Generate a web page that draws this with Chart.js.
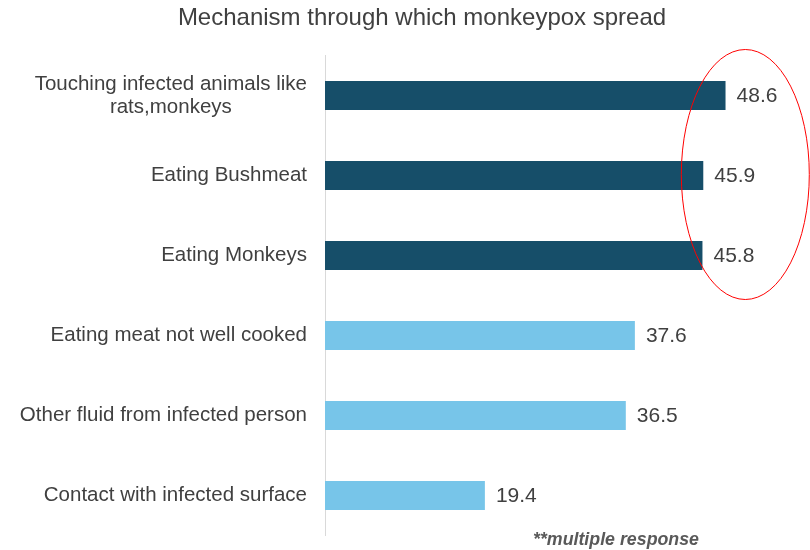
<!DOCTYPE html>
<html>
<head>
<meta charset="utf-8">
<script src="https://cdn.jsdelivr.net/npm/chart.js@4.4.1/dist/chart.umd.min.js"></script>
<style>
  body { margin: 0; background: #fff; }
  #wrap { width: 810px; height: 550px; }
</style>
</head>
<body>
<div id="wrap"><canvas id="spreadChart" width="810" height="550"></canvas></div>
<script>
const categories = [
  ["Touching infected animals like", "rats,monkeys"],
  "Eating Bushmeat",
  "Eating Monkeys",
  "Eating meat not well cooked",
  "Other fluid from infected person",
  "Contact with infected surface"
];
const percentages = [48.6, 45.9, 45.8, 37.6, 36.5, 19.4];
const barColors = ["#164e69", "#164e69", "#164e69", "#77c5e9", "#77c5e9", "#77c5e9"];
const chartTitle = "Mechanism through which monkeypox spread";
const footNote = "**multiple response";

const fontFamily = "'Liberation Sans', Arial, sans-serif";
const textColor = "#404040";

// category labels on the left, multi-line ones centred within their block
const categoryLabels = {
  id: "categoryLabels",
  afterDraw(chart) {
    const ctx = chart.ctx;
    const y = chart.scales.y;
    const right = chart.chartArea.left - 18;
    ctx.save();
    ctx.font = "20.5px " + fontFamily;
    ctx.fillStyle = textColor;
    ctx.textBaseline = "middle";
    categories.forEach((label, i) => {
      const yc = y.getPixelForTick(i);
      const lines = Array.isArray(label) ? label : [label];
      const lh = 23;
      const widest = Math.max(...lines.map(l => ctx.measureText(l).width));
      lines.forEach((line, j) => {
        const ly = yc + (j - (lines.length - 1) / 2) * lh;
        if (lines.length > 1) {
          ctx.textAlign = "center";
          ctx.fillText(line, right - widest / 2, ly);
        } else {
          ctx.textAlign = "right";
          ctx.fillText(line, right, ly);
        }
      });
    });
    ctx.restore();
  }
};

// value labels at the bar ends
const valueLabels = {
  id: "valueLabels",
  afterDatasetsDraw(chart) {
    const ctx = chart.ctx;
    const meta = chart.getDatasetMeta(0);
    ctx.save();
    ctx.font = "21px " + fontFamily;
    ctx.fillStyle = textColor;
    ctx.textAlign = "left";
    ctx.textBaseline = "middle";
    meta.data.forEach((bar, i) => {
      ctx.fillText(percentages[i].toFixed(1), bar.x + 11, bar.y + 1);
    });
    ctx.restore();
  }
};

// red ellipse round the top three bars, plus the footnote
const extras = {
  id: "extras",
  afterDraw(chart) {
    const ctx = chart.ctx;
    const x = chart.scales.x;
    const y = chart.scales.y;
    const cx = x.getPixelForValue(51);
    const cy = (y.getPixelForTick(0) + y.getPixelForTick(2)) / 2 - 1;
    ctx.save();
    ctx.strokeStyle = "#ff0000";
    ctx.lineWidth = 1;
    ctx.beginPath();
    ctx.ellipse(cx, cy, 64, 125, 0, 0, Math.PI * 2);
    ctx.stroke();

    ctx.font = "italic bold 17.8px " + fontFamily;
    ctx.fillStyle = "#595959";
    ctx.textAlign = "left";
    ctx.textBaseline = "middle";
    ctx.fillText(footNote, 533, 540);
    ctx.restore();
  }
};

new Chart(document.getElementById("spreadChart"), {
  type: "bar",
  data: {
    labels: categories,
    datasets: [{
      data: percentages,
      backgroundColor: barColors,
      borderWidth: 0,
      barPercentage: 0.3625,
      categoryPercentage: 1
    }]
  },
  options: {
    indexAxis: "y",
    responsive: false,
    animation: false,
    layout: { padding: { left: 41, right: 7, top: 4, bottom: 14.5 } },
    plugins: {
      legend: { display: false },
      tooltip: { enabled: false },
      title: {
        display: true,
        text: chartTitle,
        color: textColor,
        font: { family: fontFamily, size: 24, weight: "normal", lineHeight: 1.2 },
        padding: { top: 0, bottom: 22.7 }
      }
    },
    scales: {
      x: { display: false, min: 0, max: 58 },
      y: {
        ticks: { display: false },
        grid: { display: false },
        border: { display: true, color: "#d9d9d9", width: 1 },
        afterFit(scale) { scale.width = 284; }
      }
    }
  },
  plugins: [categoryLabels, valueLabels, extras]
});
</script>
</body>
</html>
